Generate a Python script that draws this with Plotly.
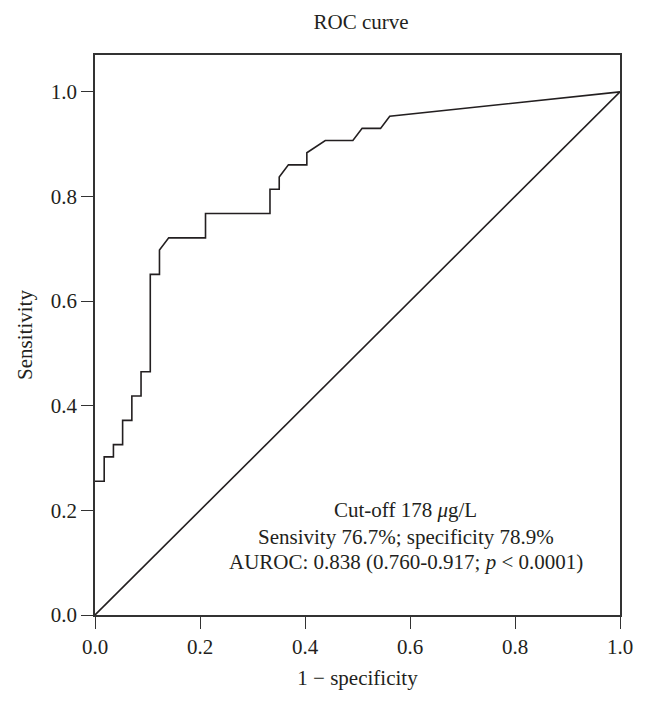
import plotly.graph_objects as go

# ROC curve points (1 - specificity, sensitivity)
fpr = [0.0, 0.0175, 0.0175, 0.0351, 0.0351, 0.0526, 0.0526, 0.0702, 0.0702,
       0.0877, 0.0877, 0.1053, 0.1053, 0.1228, 0.1228, 0.1404, 0.2105, 0.2105,
       0.3333, 0.3333, 0.3509, 0.3509, 0.3684, 0.4035, 0.4035, 0.4386, 0.4912,
       0.5088, 0.5439, 0.5614, 1.0]
tpr = [0.2558, 0.2558, 0.3023, 0.3023, 0.3256, 0.3256, 0.3721, 0.3721, 0.4186,
       0.4186, 0.4651, 0.4651, 0.6512, 0.6512, 0.6977, 0.7209, 0.7209, 0.7674,
       0.7674, 0.8140, 0.8140, 0.8372, 0.8605, 0.8605, 0.8837, 0.9070, 0.9070,
       0.9302, 0.9302, 0.9535, 1.0]

ref_x = [0.0, 1.0]
ref_y = [0.0, 1.0]

title_text = "ROC curve"
x_title = "1 \u2212 specificity"
y_title = "Sensitivity"
tick_vals = [0.0, 0.2, 0.4, 0.6, 0.8, 1.0]
tick_text = ["0.0", "0.2", "0.4", "0.6", "0.8", "1.0"]
note_lines = [
    "Cut-off 178 <i>\u03bc</i>g/L",
    "Sensivity 76.7%; specificity 78.9%",
    "AUROC: 0.838 (0.760-0.917; <i>p</i> < 0.0001)",
]
note_y = [0.2, 0.1486, 0.1010]

FONT = "Liberation Serif, Times New Roman, serif"
INK = "#231f20"
FS = 21

# the page body adds an 8 px margin, so the figure is sized to fit inside the window
W, H = 637, 690

fig = go.Figure()
fig.add_trace(go.Scatter(x=fpr, y=tpr, mode="lines",
                         line=dict(color=INK, width=1.6), showlegend=False,
                         hoverinfo="skip"))
fig.add_trace(go.Scatter(x=ref_x, y=ref_y, mode="lines",
                         line=dict(color=INK, width=1.6), showlegend=False,
                         hoverinfo="skip"))

axis_common = dict(
    showgrid=False, zeroline=False, showline=True, linecolor="#333333",
    linewidth=1.6, mirror=True, ticks="outside", ticklen=12, tickwidth=1.4,
    tickcolor="#333333", tickvals=tick_vals, ticktext=tick_text,
    tickfont=dict(family=FONT, size=FS, color=INK),
)

fig.update_layout(
    width=W, height=H,
    margin=dict(l=87, r=18, t=47, b=81),
    paper_bgcolor="white", plot_bgcolor="white",
    font=dict(family=FONT, size=FS, color=INK),
    title=dict(text=title_text, x=353 / W, xanchor="center",
               y=1 - 14 / H, yanchor="middle",
               font=dict(family=FONT, size=FS, color=INK)),
    xaxis=dict(range=[0, 1], title=dict(text=x_title, standoff=12,
               font=dict(family=FONT, size=FS, color=INK)), **axis_common),
    yaxis=dict(range=[0, 1.0705], title=dict(text=y_title, standoff=12,
               font=dict(family=FONT, size=FS, color=INK)), **axis_common),
)

for txt, yy in zip(note_lines, note_y):
    fig.add_annotation(x=0.592, y=yy, xref="x", yref="y", text=txt,
                       showarrow=False, xanchor="center", yanchor="middle",
                       font=dict(family=FONT, size=FS, color=INK))

fig.write_html("out.html")
